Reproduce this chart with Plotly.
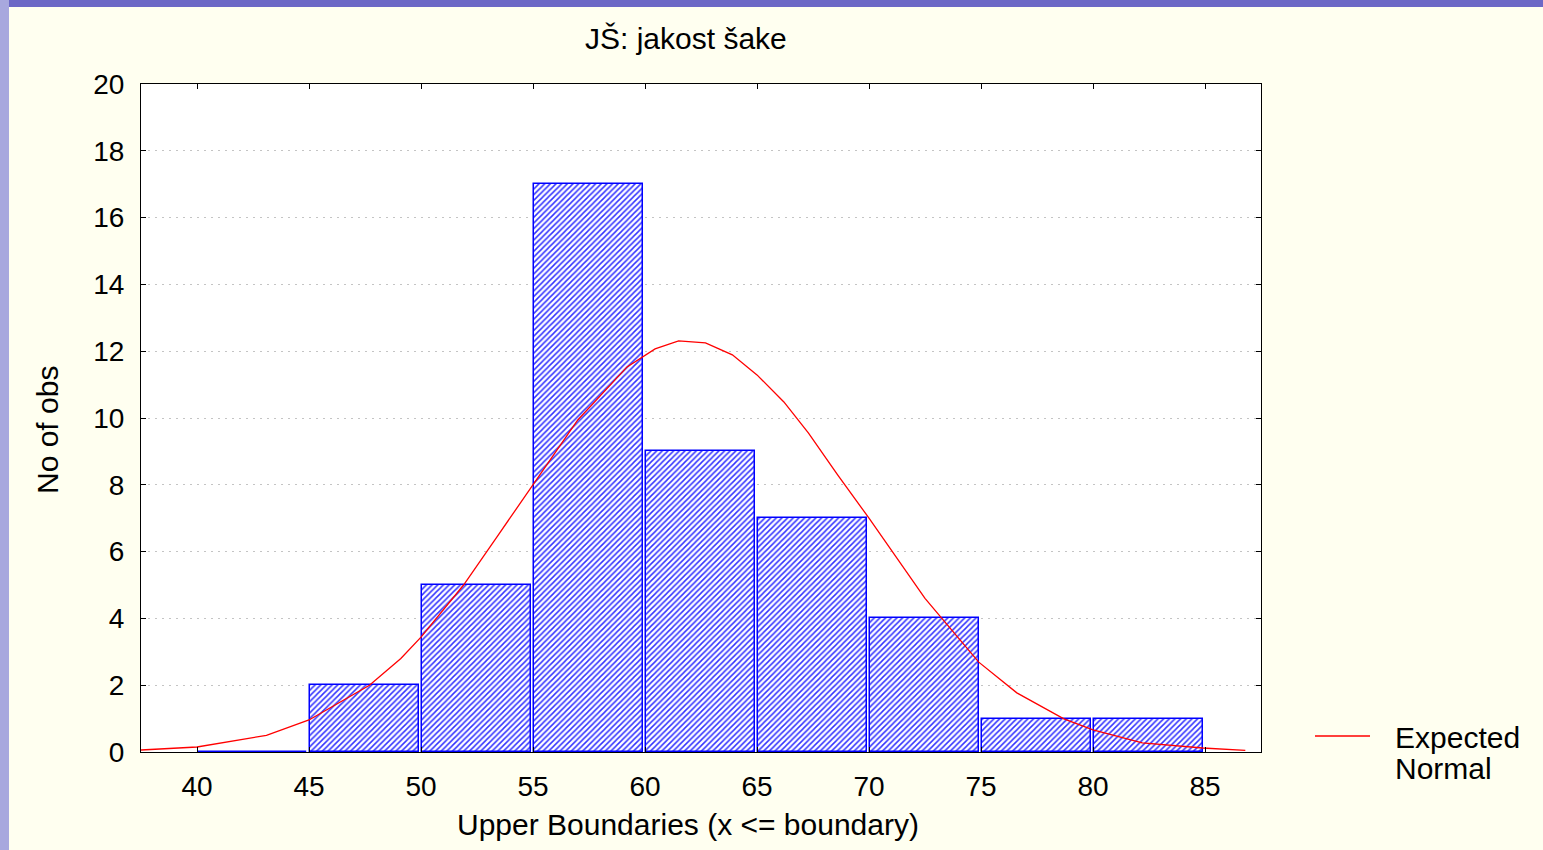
import plotly.graph_objects as go

# Histogram of grip strength: counts per class, labelled by upper class boundary
upper_bounds = [45, 50, 55, 60, 65, 70, 75, 80, 85]
counts = [0, 2, 5, 17, 9, 7, 4, 1, 1]
class_width = 5

# Expected normal curve (expected number of observations per class)
normal_x = [37.5, 40.0, 43.1, 45.0, 47.7, 49.1, 50.0, 51.9, 53.4, 55.0, 57.0, 59.2,
            60.45, 61.5, 62.7, 63.9, 65.0, 66.2, 67.3, 68.6, 70.0, 72.5, 74.9,
            76.6, 78.7, 80.0, 82.2, 84.9, 86.8]
normal_y = [0.06, 0.15, 0.50, 0.96, 2.00, 2.80, 3.44, 5.00, 6.45, 8.00, 9.94, 11.53,
            12.07, 12.31, 12.25, 11.89, 11.29, 10.48, 9.55, 8.30, 7.00, 4.60, 2.69,
            1.77, 0.99, 0.66, 0.27, 0.12, 0.05]

x_ticks = [40, 45, 50, 55, 60, 65, 70, 75, 80, 85]
y_ticks = [0, 2, 4, 6, 8, 10, 12, 14, 16, 18, 20]

title_text = "JŠ: jakost šake"
x_title = "Upper Boundaries (x <= boundary)"
y_title = "No of obs"
legend_lines = ["Expected", "Normal"]

W, H = 1543, 850
L, R, T, B = 141, 282, 84, 98
PW, PH = W - L - R, H - T - B
FONT = "Liberation Sans, Arial, sans-serif"
TEXT_SIZE = 30
TICK_SIZE = 28


def px_x(px):
    return (px - L) / PW


def px_y(py):
    return (H - B - py) / PH


fig = go.Figure()

fig.add_trace(go.Bar(
    x=upper_bounds,
    y=counts,
    offset=-class_width + 0.03,
    width=class_width - 0.12,
    marker=dict(
        color="white",
        line=dict(color="#0000ff", width=1.5),
        pattern=dict(shape="/", fgcolor="#3333ff", bgcolor="white",
                     size=4, solidity=0.38, fillmode="replace"),
    ),
    showlegend=False,
    hoverinfo="x+y",
))

fig.add_trace(go.Scatter(
    x=normal_x,
    y=normal_y,
    mode="lines",
    line=dict(color="#ff0000", width=1.3),
    showlegend=False,
))

axis_common = dict(
    showline=True, linecolor="black", linewidth=1, mirror="ticks",
    ticks="inside", ticklen=5, tickcolor="black", tickwidth=1,
    tickfont=dict(family=FONT, size=TICK_SIZE, color="black"),
    zeroline=False,
)

fig.update_xaxes(
    range=[37.5, 87.5], tickvals=x_ticks, showgrid=False,
    ticklabelstandoff=9, **axis_common,
)
fig.update_yaxes(
    range=[0, 20], tickvals=y_ticks, showgrid=True,
    gridcolor="#c4c4c4", griddash="2px,5px", gridwidth=1,
    ticklabelstandoff=10, **axis_common,
)

shapes = [
    # decorative slide edges
    dict(type="rect", xref="paper", yref="paper", layer="below",
         x0=px_x(0), x1=px_x(W), y0=px_y(7), y1=px_y(0),
         fillcolor="rgb(108,104,198)", line=dict(width=0)),
    dict(type="rect", xref="paper", yref="paper", layer="below",
         x0=px_x(0), x1=px_x(9), y0=px_y(H), y1=px_y(0),
         fillcolor="rgb(168,168,222)", line=dict(width=0)),
    # legend sample line
    dict(type="line", xref="paper", yref="paper",
         x0=px_x(1315), x1=px_x(1370), y0=px_y(736), y1=px_y(736),
         line=dict(color="#ff0000", width=1.3)),
]

annotations = [
    dict(text=title_text, xref="paper", yref="paper", x=px_x(686), y=px_y(38),
         xanchor="center", yanchor="middle", showarrow=False,
         font=dict(family=FONT, size=TEXT_SIZE, color="black")),
    dict(text=x_title, xref="paper", yref="paper", x=px_x(688), y=px_y(824),
         xanchor="center", yanchor="middle", showarrow=False,
         font=dict(family=FONT, size=TEXT_SIZE, color="black")),
    dict(text=y_title, xref="paper", yref="paper", x=px_x(47), y=px_y(430),
         xanchor="center", yanchor="middle", showarrow=False, textangle=-90,
         font=dict(family=FONT, size=TEXT_SIZE, color="black")),
    dict(text=legend_lines[0], xref="paper", yref="paper", x=px_x(1393), y=px_y(737),
         xanchor="left", yanchor="middle", showarrow=False,
         font=dict(family=FONT, size=TEXT_SIZE, color="black")),
    dict(text=legend_lines[1], xref="paper", yref="paper", x=px_x(1393), y=px_y(768),
         xanchor="left", yanchor="middle", showarrow=False,
         font=dict(family=FONT, size=TEXT_SIZE, color="black")),
]

fig.update_layout(
    width=W, height=H,
    margin=dict(l=L, r=R, t=T, b=B, pad=0),
    paper_bgcolor="#fffff0",
    plot_bgcolor="white",
    bargap=0,
    shapes=shapes,
    annotations=annotations,
    font=dict(family=FONT, color="black"),
)

fig.write_html("out.html")
